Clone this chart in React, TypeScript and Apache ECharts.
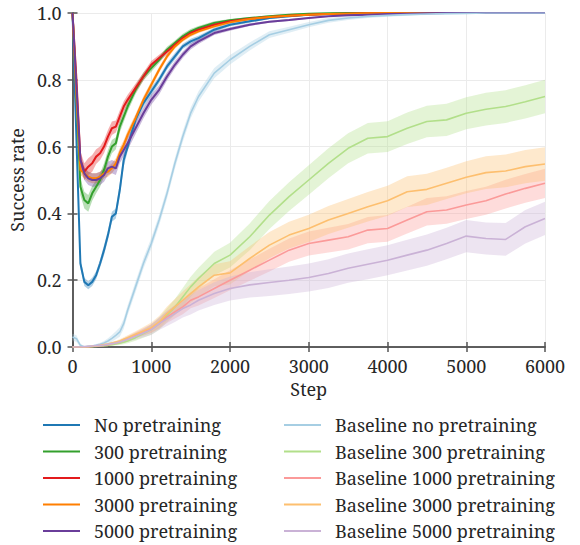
import React, { useEffect, useRef } from "react";
import * as echarts from "echarts";

const steps = [0, 50, 100, 150, 200, 250, 300, 350, 400, 450, 500, 550, 600, 650, 700, 800, 900, 1000, 1100, 1200, 1300, 1400, 1500, 1600, 1800, 2000, 2250, 2500, 2750, 3000, 3250, 3500, 3750, 4000, 4250, 4500, 4750, 5000, 5250, 5500, 5750, 6000];
const xTicks = [0, 1000, 2000, 3000, 4000, 5000, 6000];
const yTicks = [0.0, 0.2, 0.4, 0.6, 0.8, 1.0];

const noPre = [1.0, 0.62, 0.25, 0.195, 0.185, 0.195, 0.215, 0.25, 0.29, 0.335, 0.39, 0.40, 0.47, 0.56, 0.60, 0.68, 0.73, 0.765, 0.80, 0.84, 0.87, 0.90, 0.915, 0.925, 0.95, 0.965, 0.975, 0.985, 0.99, 0.995, 0.997, 0.998, 0.999, 1, 1, 1, 1, 1, 1, 1, 1, 1];
const noPreBand = [0, 0.02, 0.015, 0.012, 0.012, 0.012, 0.012, 0.012, 0.015, 0.015, 0.015, 0.015, 0.02, 0.02, 0.015, 0.012, 0.012, 0.012, 0.01, 0.01, 0.01, 0.008, 0.008, 0.007, 0.006, 0.005, 0.004, 0.003, 0.003, 0.002, 0.002, 0.001, 0.001, 0, 0, 0, 0, 0, 0, 0, 0, 0];

const pre300 = [1.0, 0.75, 0.48, 0.44, 0.43, 0.46, 0.48, 0.50, 0.53, 0.57, 0.60, 0.61, 0.66, 0.69, 0.72, 0.77, 0.81, 0.835, 0.86, 0.89, 0.91, 0.93, 0.945, 0.955, 0.97, 0.978, 0.985, 0.99, 0.995, 0.998, 0.999, 1, 1, 1, 1, 1, 1, 1, 1, 1, 1, 1];
const pre300Band = [0, 0.025, 0.025, 0.025, 0.025, 0.022, 0.02, 0.02, 0.02, 0.02, 0.02, 0.018, 0.018, 0.016, 0.015, 0.013, 0.012, 0.011, 0.01, 0.009, 0.008, 0.008, 0.007, 0.006, 0.005, 0.004, 0.003, 0.003, 0.002, 0.002, 0.001, 0.001, 0, 0, 0, 0, 0, 0, 0, 0, 0, 0];

const pre1000 = [1.0, 0.8, 0.56, 0.525, 0.54, 0.55, 0.57, 0.58, 0.60, 0.63, 0.655, 0.66, 0.69, 0.72, 0.74, 0.775, 0.81, 0.845, 0.865, 0.885, 0.905, 0.925, 0.94, 0.95, 0.965, 0.975, 0.983, 0.988, 0.992, 0.995, 0.997, 0.998, 0.999, 1, 1, 1, 1, 1, 1, 1, 1, 1];
const pre1000Band = [0, 0.025, 0.025, 0.025, 0.025, 0.025, 0.022, 0.02, 0.02, 0.02, 0.02, 0.018, 0.018, 0.016, 0.015, 0.013, 0.012, 0.011, 0.01, 0.009, 0.008, 0.008, 0.007, 0.006, 0.005, 0.004, 0.003, 0.003, 0.002, 0.002, 0.001, 0.001, 0, 0, 0, 0, 0, 0, 0, 0, 0, 0];

const pre3000 = [1.0, 0.75, 0.53, 0.52, 0.51, 0.505, 0.505, 0.51, 0.52, 0.525, 0.535, 0.55, 0.58, 0.605, 0.635, 0.685, 0.74, 0.785, 0.83, 0.87, 0.90, 0.92, 0.935, 0.945, 0.96, 0.972, 0.982, 0.988, 0.992, 0.995, 0.997, 0.998, 0.999, 1, 1, 1, 1, 1, 1, 1, 1, 1];
const pre3000Band = [0, 0.02, 0.015, 0.015, 0.015, 0.015, 0.015, 0.015, 0.015, 0.015, 0.015, 0.015, 0.015, 0.014, 0.013, 0.012, 0.011, 0.01, 0.009, 0.008, 0.007, 0.006, 0.006, 0.005, 0.004, 0.003, 0.003, 0.002, 0.002, 0.001, 0.001, 0.001, 0, 0, 0, 0, 0, 0, 0, 0, 0, 0];

const pre5000 = [1.0, 0.78, 0.56, 0.52, 0.505, 0.50, 0.50, 0.505, 0.515, 0.535, 0.54, 0.535, 0.57, 0.59, 0.61, 0.655, 0.70, 0.74, 0.77, 0.81, 0.845, 0.875, 0.90, 0.915, 0.94, 0.952, 0.965, 0.974, 0.979, 0.985, 0.99, 0.993, 0.995, 0.997, 0.998, 0.999, 1, 1, 1, 1, 1, 1];
const pre5000Band = [0, 0.02, 0.02, 0.02, 0.02, 0.02, 0.02, 0.02, 0.02, 0.02, 0.02, 0.02, 0.02, 0.02, 0.02, 0.018, 0.016, 0.015, 0.014, 0.012, 0.011, 0.01, 0.009, 0.008, 0.006, 0.005, 0.004, 0.003, 0.003, 0.002, 0.002, 0.001, 0, 0, 0, 0, 0, 0, 0, 0, 0, 0];

const baseNo = [0.03, 0.025, 0.005, 0.0, 0.002, 0.003, 0.005, 0.008, 0.012, 0.018, 0.026, 0.035, 0.045, 0.07, 0.11, 0.18, 0.25, 0.31, 0.38, 0.46, 0.55, 0.63, 0.70, 0.75, 0.82, 0.86, 0.90, 0.935, 0.95, 0.965, 0.978, 0.985, 0.99, 0.993, 0.995, 0.997, 0.998, 0.999, 1, 1, 1, 1];
const baseNoBand = [0.01, 0.01, 0.005, 0.003, 0.003, 0.003, 0.004, 0.005, 0.006, 0.008, 0.01, 0.012, 0.014, 0.015, 0.015, 0.016, 0.016, 0.016, 0.016, 0.016, 0.016, 0.016, 0.016, 0.016, 0.015, 0.014, 0.012, 0.01, 0.009, 0.008, 0.007, 0.006, 0.005, 0.004, 0.003, 0.003, 0.002, 0.002, 0.001, 0.001, 0.001, 0.001];

const base300 = [0, 0, 0, 0, 0, 0.001, 0.002, 0.003, 0.004, 0.005, 0.007, 0.009, 0.011, 0.014, 0.018, 0.028, 0.04, 0.052, 0.07, 0.095, 0.12, 0.15, 0.18, 0.205, 0.25, 0.275, 0.33, 0.395, 0.45, 0.50, 0.55, 0.595, 0.625, 0.63, 0.655, 0.675, 0.68, 0.70, 0.712, 0.72, 0.734, 0.75];
const base300Band = [0, 0, 0, 0, 0, 0.001, 0.002, 0.002, 0.003, 0.003, 0.004, 0.004, 0.005, 0.006, 0.007, 0.009, 0.012, 0.015, 0.018, 0.021, 0.024, 0.027, 0.03, 0.032, 0.035, 0.037, 0.04, 0.042, 0.043, 0.044, 0.045, 0.045, 0.046, 0.046, 0.047, 0.047, 0.048, 0.048, 0.049, 0.049, 0.05, 0.05];

const base1000 = [0, 0, 0, 0, 0, 0.002, 0.003, 0.004, 0.005, 0.007, 0.01, 0.012, 0.015, 0.02, 0.025, 0.035, 0.045, 0.055, 0.07, 0.09, 0.105, 0.12, 0.14, 0.15, 0.175, 0.20, 0.23, 0.26, 0.29, 0.31, 0.32, 0.33, 0.35, 0.355, 0.38, 0.405, 0.41, 0.425, 0.438, 0.458, 0.475, 0.49];
const base1000Band = [0, 0, 0, 0, 0, 0.001, 0.002, 0.002, 0.003, 0.003, 0.004, 0.004, 0.005, 0.006, 0.007, 0.009, 0.011, 0.013, 0.015, 0.018, 0.02, 0.022, 0.024, 0.026, 0.028, 0.03, 0.032, 0.034, 0.035, 0.036, 0.037, 0.038, 0.039, 0.04, 0.04, 0.041, 0.041, 0.042, 0.042, 0.043, 0.043, 0.044];

const base3000 = [0, 0, 0, 0, 0.001, 0.002, 0.003, 0.005, 0.007, 0.009, 0.012, 0.015, 0.018, 0.023, 0.028, 0.038, 0.048, 0.058, 0.075, 0.10, 0.12, 0.14, 0.16, 0.18, 0.215, 0.222, 0.265, 0.305, 0.335, 0.355, 0.38, 0.40, 0.42, 0.438, 0.465, 0.472, 0.49, 0.508, 0.522, 0.527, 0.54, 0.548];
const base3000Band = [0, 0, 0, 0, 0, 0.001, 0.002, 0.002, 0.003, 0.003, 0.004, 0.004, 0.005, 0.006, 0.007, 0.009, 0.012, 0.015, 0.018, 0.021, 0.024, 0.026, 0.028, 0.03, 0.033, 0.035, 0.037, 0.039, 0.04, 0.041, 0.042, 0.043, 0.044, 0.045, 0.046, 0.047, 0.047, 0.048, 0.049, 0.049, 0.05, 0.05];

const base5000 = [0, 0, 0, 0.001, 0.002, 0.003, 0.004, 0.005, 0.006, 0.008, 0.01, 0.012, 0.015, 0.019, 0.023, 0.032, 0.042, 0.052, 0.07, 0.085, 0.10, 0.115, 0.126, 0.14, 0.16, 0.175, 0.186, 0.193, 0.20, 0.208, 0.22, 0.236, 0.248, 0.26, 0.275, 0.29, 0.31, 0.332, 0.325, 0.322, 0.36, 0.385];
const base5000Band = [0, 0, 0, 0.001, 0.001, 0.002, 0.002, 0.003, 0.003, 0.004, 0.004, 0.005, 0.005, 0.006, 0.007, 0.01, 0.013, 0.016, 0.019, 0.022, 0.025, 0.027, 0.029, 0.031, 0.034, 0.036, 0.038, 0.04, 0.041, 0.042, 0.043, 0.044, 0.045, 0.045, 0.046, 0.047, 0.047, 0.048, 0.048, 0.049, 0.05, 0.05];

const seriesDefs = [
  { name: "No pretraining", color: "#1f78b4", values: noPre, band: noPreBand, width: 2 },
  { name: "300 pretraining", color: "#33a02c", values: pre300, band: pre300Band, width: 2 },
  { name: "1000 pretraining", color: "#e31a1c", values: pre1000, band: pre1000Band, width: 2 },
  { name: "3000 pretraining", color: "#ff7f00", values: pre3000, band: pre3000Band, width: 2 },
  { name: "5000 pretraining", color: "#6a3d9a", values: pre5000, band: pre5000Band, width: 2 },
  { name: "Baseline no pretraining", color: "#a6cee3", values: baseNo, band: baseNoBand, width: 1.6 },
  { name: "Baseline 300 pretraining", color: "#b2df8a", values: base300, band: base300Band, width: 1.6 },
  { name: "Baseline 1000 pretraining", color: "#fb9a99", values: base1000, band: base1000Band, width: 1.6 },
  { name: "Baseline 3000 pretraining", color: "#fdbf6f", values: base3000, band: base3000Band, width: 1.6 },
  { name: "Baseline 5000 pretraining", color: "#cab2d6", values: base5000, band: base5000Band, width: 1.6 },
];

const FONT = "'Noto Serif', 'Liberation Serif', serif";
const TEXT = "#262626";
const SPINE = "#555555";

export default function App() {
  const ref = useRef<HTMLDivElement>(null);
  useEffect(() => {
    if (!ref.current) return;
    const chart = echarts.init(ref.current, null, { renderer: "svg" });
    const series: any[] = [];
    seriesDefs.forEach((d, k) => {
      series.push({
        type: "custom",
        name: "band" + k,
        xAxisIndex: 0,
        yAxisIndex: 0,
        silent: true,
        clip: true,
        data: [[0, 0]],
        renderItem: (params: any, api: any) => {
          const up = steps.map((s, i) => api.coord([s, Math.min(1, d.values[i] + d.band[i])]));
          const lo = steps.map((s, i) => api.coord([s, Math.max(0, d.values[i] - d.band[i])])).reverse();
          return {
            type: "polygon",
            shape: { points: up.concat(lo) },
            style: { fill: d.color, opacity: 0.35 },
          };
        },
      });
      series.push({
        type: "line",
        name: d.name,
        color: d.color,
        xAxisIndex: 0,
        yAxisIndex: 0,
        showSymbol: false,
        symbol: "none",
        data: steps.map((s, i) => [s, d.values[i]]),
        lineStyle: { width: d.width, color: d.color },
      });
    });
    const axisLine = { show: true, lineStyle: { color: SPINE, width: 1.5 } };
    const axisTick = { show: true, inside: false, length: 5, lineStyle: { color: SPINE, width: 1.5 } };
    const legendCommon = {
      orient: "vertical",
      top: 415,
      itemWidth: 37,
      itemHeight: 2,
      itemGap: 6.5,
      icon: "rect",
      padding: 0,
      textStyle: { fontFamily: FONT, fontSize: 18, color: TEXT, lineHeight: 20, padding: [0, 0, 0, 9] },
    };
    chart.setOption({
      animation: false,
      backgroundColor: "#ffffff",
      textStyle: { fontFamily: FONT },
      grid: { left: 71, right: 35, top: 13, bottom: 198, containLabel: false },
      legend: [
        { ...legendCommon, left: 43, data: seriesDefs.slice(0, 5).map((d) => d.name) },
        { ...legendCommon, left: 284, data: seriesDefs.slice(5).map((d) => d.name) },
      ],
      xAxis: [
        {
          type: "value",
          min: xTicks[0],
          max: xTicks[xTicks.length - 1],
          interval: 1000,
          position: "bottom",
          axisLine,
          axisTick,
          axisLabel: { fontFamily: FONT, fontSize: 18, color: TEXT, margin: 10, formatter: (v: number) => String(v) },
          splitLine: { show: true, lineStyle: { color: "#ebebeb", width: 1 } },
          name: "Step",
          nameLocation: "middle",
          nameGap: 32,
          nameTextStyle: { fontFamily: FONT, fontSize: 18, color: TEXT },
        },
        {
          type: "value",
          min: xTicks[0],
          max: xTicks[xTicks.length - 1],
          interval: 1000,
          position: "top",
          axisLine,
          axisTick,
          axisLabel: { show: false },
          splitLine: { show: false },
        },
      ],
      yAxis: [
        {
          type: "value",
          min: yTicks[0],
          max: yTicks[yTicks.length - 1],
          interval: 0.2,
          position: "left",
          axisLine,
          axisTick,
          axisLabel: { fontFamily: FONT, fontSize: 18, color: TEXT, margin: 11, formatter: (v: number) => v.toFixed(1) },
          splitLine: { show: true, lineStyle: { color: "#ebebeb", width: 1 } },
          name: "Success rate",
          nameLocation: "middle",
          nameGap: 46,
          nameRotate: 90,
          nameTextStyle: { fontFamily: FONT, fontSize: 18, color: TEXT },
        },
        {
          type: "value",
          min: yTicks[0],
          max: yTicks[yTicks.length - 1],
          interval: 0.2,
          position: "right",
          axisLine,
          axisTick,
          axisLabel: { show: false },
          splitLine: { show: false },
        },
      ],
      series,
    });
    return () => chart.dispose();
  }, []);
  return <div ref={ref} style={{ position: "fixed", left: 0, top: 0, width: 580, height: 545 }} />;
}
